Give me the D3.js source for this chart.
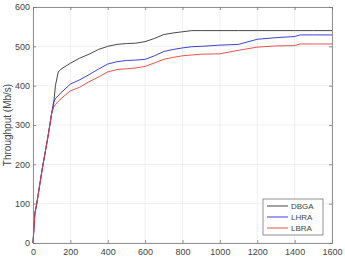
<!DOCTYPE html>
<html lang="en">
<head>
    <meta charset="UTF-8" />
    <title>Throughput</title>
    <script src="https://d3js.org/d3.v7.min.js"></script>
    <style>
        body { margin: 0; background: #fff; }
        text { font-family: Arial, "Liberation Sans", sans-serif; font-size: 9px; fill: #444; }
    </style>
</head>
<body>
    <script>
        // data
        const xs = [0, 10, 20, 50, 80, 100, 110, 120, 135, 150, 200, 250, 300, 350, 400, 450, 500, 550, 600, 650, 700, 750, 800, 850, 900, 1000, 1100, 1200, 1300, 1400, 1430, 1500, 1600];
        const dbga = [0, 75, 100, 190, 270, 330, 350, 400, 435, 442, 457, 470, 480, 492, 500, 505, 507, 508, 512, 520, 530, 534, 537, 540, 540, 540, 540, 540, 540, 540, 540, 540, 540];
        const lhra = [0, 75, 100, 190, 270, 330, 358, 367, 375, 382, 404, 415, 428, 442, 455, 461, 464, 465, 467, 476, 487, 492, 496, 499, 500, 503, 505, 518, 522, 525, 529, 529, 529];
        const lbra = [0, 75, 100, 190, 270, 330, 345, 352, 360, 367, 387, 396, 410, 422, 435, 441, 443, 445, 449, 458, 467, 472, 476, 478, 480, 481, 490, 498, 501, 502, 506, 506, 506];
        const series = [
            { name: "DBGA", values: dbga, color: "#333333" },
            { name: "LHRA", values: lhra, color: "#2b2bd0" },
            { name: "LBRA", values: lbra, color: "#e8403a" }
        ];
        const xTicks = [0, 200, 400, 600, 800, 1000, 1200, 1400, 1600];
        const yTicks = [0, 100, 200, 300, 400, 500, 600];

        const width = 345, height = 263;
        const m = { left: 33, right: 13, top: 7, bottom: 20 };

        const svg = d3.select("body").append("svg")
            .attr("width", width).attr("height", height);

        const x = d3.scaleLinear().domain([0, 1600]).range([m.left, width - m.right]);
        const y = d3.scaleLinear().domain([0, 600]).range([height - m.bottom, m.top]);

        // grid
        svg.append("g").selectAll("line").data(xTicks).join("line")
            .attr("x1", d => x(d)).attr("x2", d => x(d))
            .attr("y1", y(0)).attr("y2", y(600))
            .attr("stroke", "#e6e6e6").attr("stroke-width", 0.6);
        svg.append("g").selectAll("line").data(yTicks).join("line")
            .attr("x1", x(0)).attr("x2", x(1600))
            .attr("y1", d => y(d)).attr("y2", d => y(d))
            .attr("stroke", "#e6e6e6").attr("stroke-width", 0.6);

        // lines
        const line = d3.line()
            .x((d, i) => x(xs[i]))
            .y(d => y(d));
        svg.append("g").selectAll("path").data(series).join("path")
            .attr("d", d => line(d.values))
            .attr("fill", "none")
            .attr("stroke", d => d.color)
            .attr("stroke-width", 0.9);

        // axes (inward ticks, box)
        svg.append("g").attr("transform", `translate(0,${y(0)})`)
            .call(d3.axisBottom(x).tickValues(xTicks).tickFormat(d3.format("d")).tickSize(-3).tickPadding(6));
        svg.append("g").attr("transform", `translate(${x(0)},0)`)
            .call(d3.axisLeft(y).tickValues(yTicks).tickFormat(d3.format("d")).tickSize(-3).tickPadding(3));
        svg.append("g").attr("transform", `translate(0,${y(600)})`)
            .call(d3.axisTop(x).tickValues(xTicks).tickSize(-3).tickFormat(""));
        svg.append("g").attr("transform", `translate(${x(1600)},0)`)
            .call(d3.axisRight(y).tickValues(yTicks).tickSize(-3).tickFormat(""));
        svg.selectAll(".domain, .tick line").attr("stroke", "#777").attr("stroke-width", 0.8);
        svg.selectAll(".tick text").attr("fill", "#444").style("font-size", "9px");

        // y label
        svg.append("text")
            .attr("transform", `translate(11,${(y(0) + y(600)) / 2}) rotate(-90)`)
            .attr("text-anchor", "middle")
            .style("font-size", "10px")
            .text("Throughput (Mb/s)");

        // legend
        const lg = svg.append("g").attr("transform", "translate(263,199)");
        lg.append("rect").attr("width", 60).attr("height", 36)
            .attr("fill", "#fff").attr("stroke", "#777").attr("stroke-width", 0.8);
        const item = lg.selectAll("g").data(series).join("g")
            .attr("transform", (d, i) => `translate(0,${7 + i * 11})`);
        item.append("line").attr("x1", 4).attr("x2", 25)
            .attr("stroke", d => d.color).attr("stroke-width", 0.9);
        item.append("text").attr("x", 28).attr("dy", "0.35em")
            .style("font-size", "8px").text(d => d.name);
    </script>
</body>
</html>
